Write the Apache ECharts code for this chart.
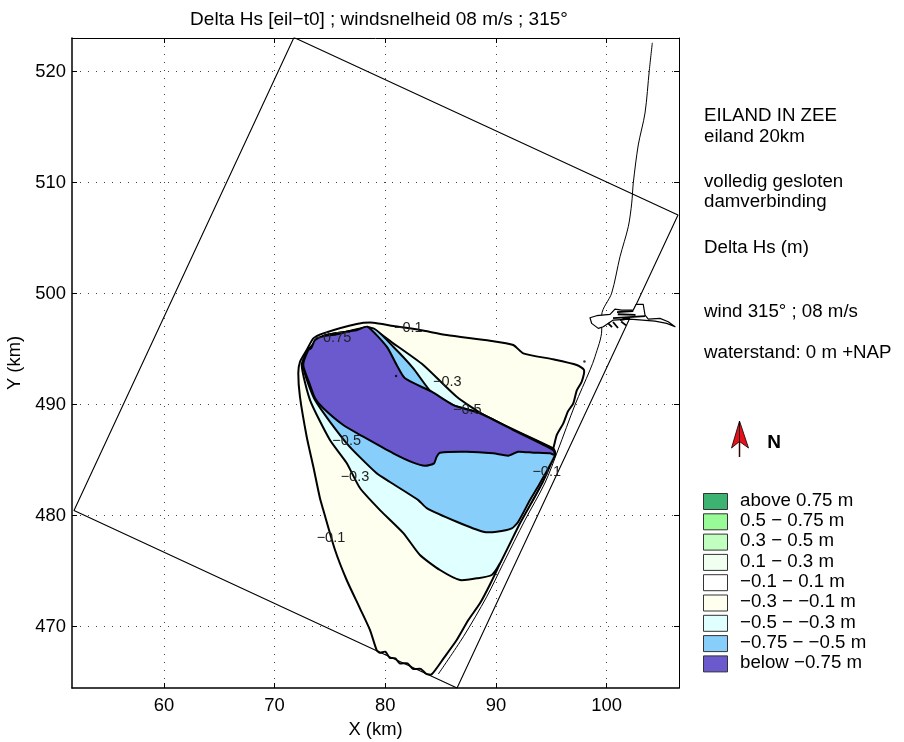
<!DOCTYPE html>
<html><head><meta charset="utf-8">
<style>html,body{margin:0;padding:0;background:#fff}#c{width:904px;height:742px}</style>
<script src="https://cdn.jsdelivr.net/npm/echarts@6/dist/echarts.min.js"></script>
</head><body><div id="c"></div>
<script>
const titleText = 'Delta Hs [eil\u2212t0] ; windsnelheid 08 m/s ; 315\u00b0';
const xTicks = [60, 70, 80, 90, 100];
const yTicks = [470, 480, 490, 500, 510, 520];
const modelDomain = [[71.75,523.08],[106.44,507.09],[86.48,464.48],[51.88,480.47],[71.75,523.08]];
const coastline = [[104.12,522.61],[103.85,520.15],[103.46,516.28],[102.85,513.40],[102.40,509.97],[102.26,508.17],[101.95,506.04],[101.20,503.33],[100.45,500.06],[99.55,498.08],[99.55,496.73],[98.94,494.32],[98.49,493.13],[97.13,489.97],[95.60,485.92],[94.42,482.95],[92.62,479.61],[90.66,475.71],[89.16,472.70],[87.05,469.10],[84.79,465.74]];
const contourM01 = [[72.14,492.83],[72.29,490.72],[72.90,487.12],[73.50,484.41],[74.10,481.57],[74.40,480.51],[75.46,476.91],[76.51,474.21],[77.71,471.66],[78.62,469.70],[79.22,467.90],[79.52,467.66],[80.0,467.75],[80.4,467.2],[80.9,467.15],[81.3,466.7],[82.0,466.7],[82.5,466.2],[83.2,466.2],[83.7,465.75],[84.19,465.71],[85.3,467.2],[86.45,468.8],[87.5,470.6],[88.55,472.11],[89.5,473.9],[90.36,475.71],[91.1,477.4],[92.17,479.61],[92.6,480.6],[93.2,481.2],[93.97,482.77],[94.3,483.9],[95.17,486.07],[95.5,487.3],[96.08,488.32],[96.5,489.4],[96.98,490.13],[97.3,491.3],[97.74,492.07],[97.95,493.13],[97.29,493.58],[95.17,494.09],[92.46,494.63],[91.56,495.38],[89.46,495.77],[85.55,496.28],[83.13,496.73],[80.72,497.09],[78.92,497.39],[77.42,497.27],[74.40,496.43],[73.50,495.98],[72.90,494.93],[72.29,493.85]];
const contourM03 = [[72.45,493.58],[73.20,490.42],[75.00,486.82],[76.51,484.75],[77.71,482.50],[79.52,480.51],[81.63,478.44],[83.13,476.46],[84.94,475.11],[86.75,474.21],[88.26,474.36],[89.61,474.66],[90.36,475.71],[92.17,479.32],[94.24,483.06],[95.33,485.65],[95.17,486.07],[89.16,488.92],[86.45,490.72],[83.43,493.58],[80.72,495.53],[78.62,496.97],[76.51,496.58],[74.40,496.19],[73.04,494.93]];
const contourM05 = [[72.59,493.42],[73.65,490.42],[76.51,486.52],[79.22,483.82],[80.42,483.04],[82.98,481.41],[83.74,480.69],[86.45,479.46],[88.85,478.56],[90.06,478.56],[91.42,478.86],[92.01,479.46],[93.07,481.41],[93.97,482.92],[95.33,485.47],[95.17,486.0],[91.56,487.72],[88.55,489.23],[86.14,489.97],[84.19,491.10],[82.53,493.28],[80.72,495.23],[78.92,496.88],[76.51,496.58],[74.40,496.19],[73.04,494.93]];
const contourM075 = [[78.37,497.03],[80.13,495.23],[81.03,493.58],[81.78,492.38],[84.19,491.17],[86.14,489.97],[88.55,489.23],[91.56,487.72],[95.17,485.92],[95.33,485.47],[94.88,485.62],[93.37,485.68],[92.01,485.77],[91.11,485.41],[89.75,485.62],[87.35,485.77],[84.94,485.68],[84.64,485.32],[84.40,484.72],[83.59,484.50],[82.53,484.78],[80.72,485.62],[78.01,487.12],[76.20,488.17],[74.40,489.68],[73.65,490.58],[73.20,491.78],[72.59,493.58],[73.04,494.93],[73.3,495.1],[73.65,495.83],[74.40,496.19],[75.4,496.3],[76.51,496.58],[77.4,496.7]];
const harbour = [[98.49,497.84],[99.09,498.02],[100.30,498.14],[100.75,498.62],[101.35,498.53],[102.40,498.53],[102.65,499.04],[103.30,499.04],[103.46,498.08],[103.76,497.72],[104.81,497.78],[105.56,497.48],[106.17,497.03],[105.42,497.33],[104.36,497.54],[102.10,497.72],[100.59,497.63],[99.69,497.03],[99.24,496.88],[98.64,497.33]];
const harbourWorks = [[100.93,498.35],[102.40,498.44],null,[100.57,497.81],[103.46,497.99],null,[100.12,497.36],[100.48,497.0],null,[100.57,497.45],[101.02,496.91],null,[101.2,497.63],[102.1,497.81],null,[101.0,498.15],[102.6,498.1],null,[101.3,497.5],[101.75,497.15]];
const spots = [[97.99,493.89],[80.97,492.59]];
const contourLabels = ['\u22120.1','\u22120.75','\u22120.3','\u22120.5','\u22120.5','\u22120.3','\u22120.1','\u22120.1'];
const contourLabelPos = [[82.08,496.94],[75.27,496.04],[85.6,492.05],[87.41,489.52],[76.51,486.73],[77.26,483.51],[75.09,477.96],[94.58,483.96]];
const sideLines = ['EILAND IN ZEE','eiland 20km','volledig gesloten','damverbinding','Delta Hs (m)','wind 315\u00b0 ; 08 m/s','waterstand: 0 m +NAP'];
const legendLabels = ['above 0.75 m','0.5 \u2212 0.75 m','0.3 \u2212 0.5 m','0.1 \u2212 0.3 m','\u22120.1 \u2212 0.1 m','\u22120.3 \u2212 \u22120.1 m','\u22120.5 \u2212 \u22120.3 m','\u22120.75 \u2212 \u22120.5 m','below \u22120.75 m'];
const legendColors = ['#3CB371','#98FB98','#C1FFC1','#F0FFF0','#FFFFFF','#FFFFF0','#E0FFFF','#87CEFA','#6A5ACD'];

const font = '"Liberation Sans", Arial, sans-serif';
const sideY = [116, 137, 182, 202, 248, 312, 353];
const chart = echarts.init(document.getElementById('c'), null, {renderer:'canvas'});

function polygonSeries(name, pts, fill, width, z, smooth) {
  return {
    type:'custom', name, z, clip:true, animation:false, silent:true,
    coordinateSystem:'cartesian2d', data:pts, encode:{x:0,y:1},
    renderItem(params, api) {
      if (params.dataIndex !== 0) return null;
      return {type:'polygon', shape:{points:pts.map(p=>api.coord(p)), smooth:smooth||0},
              style:{fill, stroke:'#000', lineWidth:width, lineJoin:'round'}};
    }
  };
}
function lineSeries(name, pts, width, z, smooth) {
  return {type:'line', name, z, data:pts.map(p=>p||[null,null]), showSymbol:false, symbol:'none', silent:true,
          animation:false, connectNulls:false, smooth:smooth||false, lineStyle:{color:'#000', width}};
}
const xBase = {type:'value', min:51.7, max:106.53};
const yBase = {type:'value', min:464.48, max:523.04};
const tickStyle = {inside:true, length:5, lineStyle:{color:'#000', width:1}};
const nameStyle = {fontFamily:font, fontSize:18.4, color:'#000'};
const labelStyle = {fontFamily:font, fontSize:18.4, color:'#000'};
const gridDots = {show:true, lineStyle:{color:'#444', width:1, type:[1,7]}};

const graphics = [];
sideLines.forEach((t,i)=>graphics.push({type:'text', x:704, y:sideY[i], silent:true,
  style:{text:t, font:'18.7px '+font, fill:'#000', verticalAlign:'middle', align:'left'}}));
legendLabels.forEach((t,i)=>{
  const cy = 501.5 + i*20.3;
  graphics.push({type:'rect', shape:{x:703.5, y:cy-8, width:24, height:16}, silent:true,
    style:{fill:legendColors[i], stroke:'#333', lineWidth:1}});
  graphics.push({type:'text', x:740, y:cy-0.8, silent:true,
    style:{text:t, font:'18.7px '+font, fill:'#000', verticalAlign:'middle', align:'left'}});
});
graphics.push({type:'line', silent:true, shape:{x1:739.5,y1:438,x2:739.5,y2:457}, style:{stroke:'#300',lineWidth:1.5}});
graphics.push({type:'polygon', silent:true, shape:{points:[[739.5,421],[731.5,448],[739.5,441.5]]}, style:{fill:'#E8101A',stroke:'#000',lineWidth:0.8}});
graphics.push({type:'polygon', silent:true, shape:{points:[[739.5,421],[748.5,448],[739.5,441.5]]}, style:{fill:'#E8101A',stroke:'#000',lineWidth:0.8}});
graphics.push({type:'text', x:774, y:442.5, silent:true, style:{text:'N', font:'bold 19px '+font, fill:'#000', align:'center', verticalAlign:'middle'}});

chart.setOption({
  animation:false,
  backgroundColor:'#fff',
  title:{text:titleText, left:374, top:5, textAlign:'center', textStyle:{fontFamily:font, fontSize:19, fontWeight:'normal', color:'#000'}},
  grid:{left:72, right:225, top:38, bottom:54, show:false, outerBoundsMode:'none', containLabel:false},
  xAxis:[
    Object.assign({}, xBase, {position:'bottom', name:'X (km)', nameLocation:'middle', nameGap:33, nameTextStyle:nameStyle,
      axisLine:{show:true, lineStyle:{color:'#000', width:1.5}}, axisTick:Object.assign({}, tickStyle, {customValues:xTicks}),
      axisLabel:{customValues:xTicks, margin:9, ...labelStyle},
      splitLine:gridDots}),
    Object.assign({}, xBase, {position:'top', axisLine:{show:true, lineStyle:{color:'#000', width:1}}, axisTick:Object.assign({}, tickStyle, {customValues:xTicks}),
      axisLabel:{show:false}, splitLine:{show:false}})
  ],
  yAxis:[
    Object.assign({}, yBase, {position:'left', name:'Y (km)', nameLocation:'middle', nameGap:45, nameRotate:90, nameTextStyle:nameStyle,
      axisLine:{show:true, lineStyle:{color:'#000', width:1.5}}, axisTick:Object.assign({}, tickStyle, {customValues:yTicks}),
      axisLabel:{customValues:yTicks, margin:6, ...labelStyle},
      splitLine:gridDots}),
    Object.assign({}, yBase, {position:'right', axisLine:{show:true, lineStyle:{color:'#000', width:1}}, axisTick:Object.assign({}, tickStyle, {customValues:yTicks}),
      axisLabel:{show:false}, splitLine:{show:false}})
  ],
  series:[
    polygonSeries('-0.3 - -0.1', contourM01, '#FFFFF0', 2, 3, 0.2),
    polygonSeries('-0.5 - -0.3', contourM03, '#E0FFFF', 2, 4, 0.2),
    polygonSeries('-0.75 - -0.5', contourM05, '#87CEFA', 2, 5, 0.2),
    polygonSeries('below -0.75', contourM075, '#6A5ACD', 2, 6, 0.2),
    lineSeries('domain', modelDomain, 1.1, 7),
    lineSeries('coast', coastline, 1, 7, 0.3),
    polygonSeries('harbour', harbour, '#FFFFFF', 1.2, 8),
    lineSeries('harbour works', harbourWorks, 1.8, 9),
    {type:'scatter', name:'spots', data:spots, symbolSize:2.5, z:9, silent:true, animation:false, itemStyle:{color:'#000'}},
    {type:'custom', name:'contour labels', z:10, silent:true, animation:false, data:contourLabelPos, encode:{x:0,y:1},
      renderItem(params, api) {
        const c = api.coord(contourLabelPos[params.dataIndex]);
        return {type:'text', x:c[0], y:c[1], style:{text:contourLabels[params.dataIndex], font:'14.5px '+font, fill:'#222', align:'center', verticalAlign:'middle'}};
      }}
  ],
  graphic:graphics
});
</script></body></html>
